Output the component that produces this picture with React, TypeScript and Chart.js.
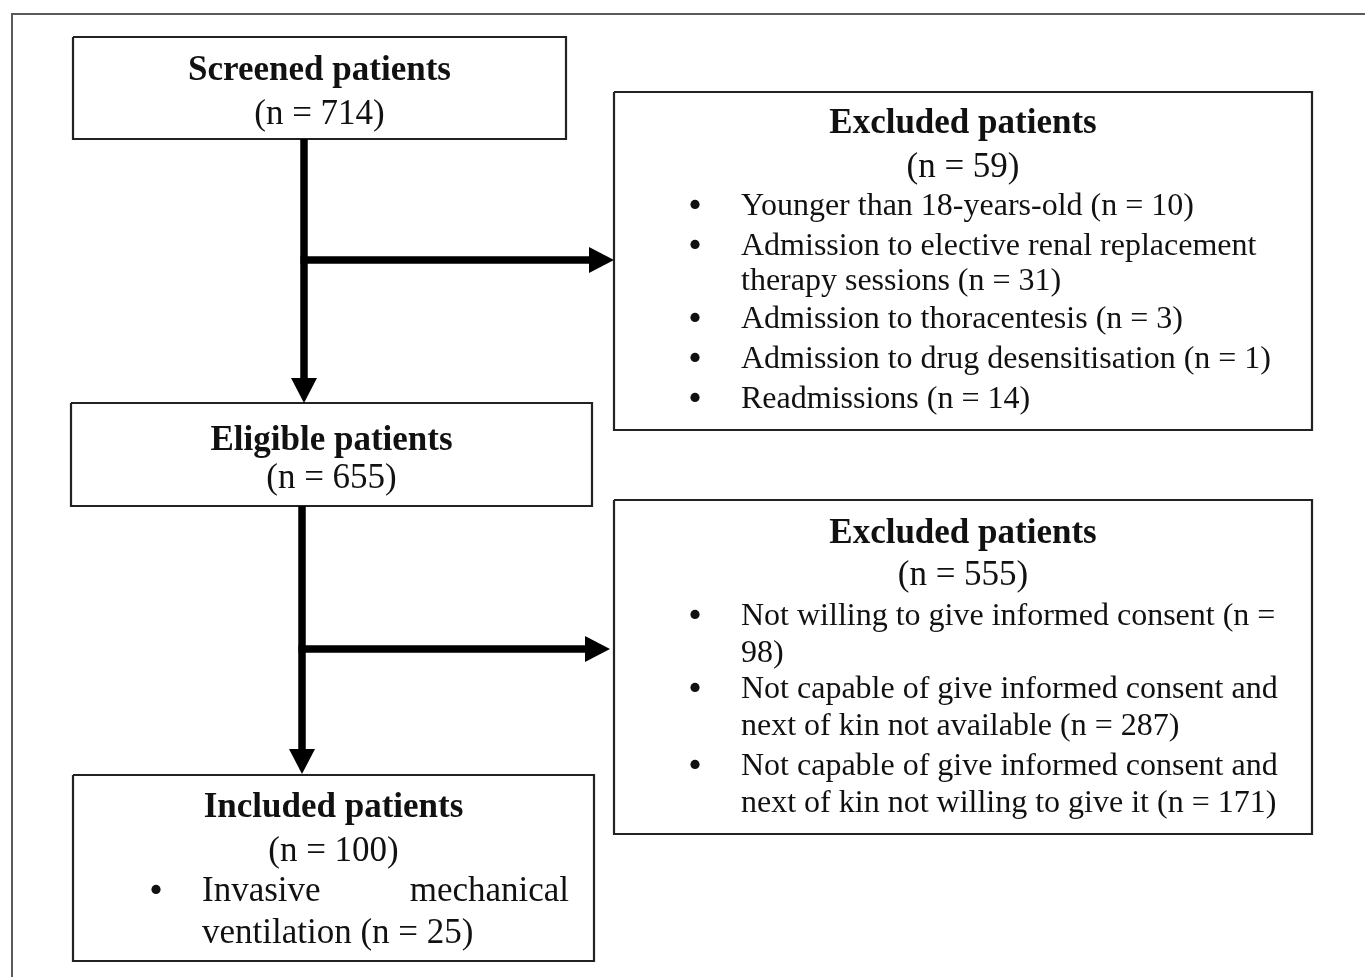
import { useEffect, useRef } from 'react';
import { Chart, registerables } from 'chart.js';

Chart.register(...registerables);

const CANVAS_W = 1365;
const CANVAS_H = 977;

// ---- Boxes (in diagram units) ----
const boxLeft = [73, 614, 71, 614, 73];
const boxRight = [566, 1312, 592, 1312, 594];
const boxTop = [37, 92, 403, 500, 775];
const boxBottom = [139, 430, 506, 834, 961];

const boxTitles = ['Screened patients', 'Excluded patients', 'Eligible patients', 'Excluded patients', 'Included patients'];
const boxCounts = [714, 59, 655, 555, 100];
const titleBaselines = [80, 133, 450, 543, 817];
const countBaselines = [124, 177, 488, 585, 861];

// ---- Bullet lists ----
const excluded1Reasons = [
  ['Younger than 18-years-old (n = 10)'],
  ['Admission to elective renal replacement', 'therapy sessions (n = 31)'],
  ['Admission to thoracentesis (n = 3)'],
  ['Admission to drug desensitisation (n = 1)'],
  ['Readmissions (n = 14)'],
];
const excluded1Baselines = [[215], [255, 290], [328], [368], [408]];

const excluded2Reasons = [
  ['Not willing to give informed consent (n =', '98)'],
  ['Not capable of give informed consent and', 'next of kin not available (n = 287)'],
  ['Not capable of give informed consent and', 'next of kin not willing to give it (n = 171)'],
];
const excluded2Baselines = [[625, 662], [698, 735], [775, 812]];

const includedReasons = [['Invasive mechanical', 'ventilation (n = 25)']];
const includedBaselines = [[901, 943]];

// ---- Arrows: start -> tip ----
const arrowStartX = [304, 304, 302, 302];
const arrowStartY = [139, 260, 506, 649];
const arrowTipX = [304, 614, 302, 610];
const arrowTipY = [403, 260, 774, 649];

// ---- Outer frame ----
const frameX = [12, 12, 1365];
const frameY = [977, 14, 14];

const SERIF = '"Liberation Serif", "Times New Roman", serif';

const flowPlugin = {
  id: 'flowText',
  afterDatasetsDraw(chart: any) {
    const { ctx } = chart;
    const xs = chart.scales.x;
    const ys = chart.scales.y;
    const px = (v: number) => xs.getPixelForValue(v);
    const py = (v: number) => ys.getPixelForValue(v);

    ctx.save();
    // arrows
    ctx.fillStyle = '#000';
    ctx.strokeStyle = '#000';
    for (let i = 0; i < arrowStartX.length; i++) {
      const sx = px(arrowStartX[i]);
      const sy = py(arrowStartY[i]);
      const tx = px(arrowTipX[i]);
      const ty = py(arrowTipY[i]);
      const dx = tx - sx;
      const dy = ty - sy;
      const len = Math.hypot(dx, dy);
      const ux = dx / len;
      const uy = dy / len;
      const headLen = 25;
      const headHalf = 13;
      const bx = tx - ux * headLen;
      const by = ty - uy * headLen;
      ctx.lineWidth = 7.5;
      ctx.lineCap = 'butt';
      ctx.beginPath();
      ctx.moveTo(sx - ux * 3.5 * (i % 2), sy - uy * 3.5 * (i % 2));
      ctx.lineTo(bx + ux * 1, by + uy * 1);
      ctx.stroke();
      ctx.beginPath();
      ctx.moveTo(tx, ty);
      ctx.lineTo(bx - uy * headHalf, by + ux * headHalf);
      ctx.lineTo(bx + uy * headHalf, by - ux * headHalf);
      ctx.closePath();
      ctx.fill();
    }

    // text
    ctx.fillStyle = '#111';
    ctx.textBaseline = 'alphabetic';
    for (let i = 0; i < boxTitles.length; i++) {
      const cx = px((boxLeft[i] + boxRight[i]) / 2);
      ctx.textAlign = 'center';
      ctx.font = `bold 35px ${SERIF}`;
      ctx.fillText(boxTitles[i], cx, py(titleBaselines[i]));
      ctx.font = `35px ${SERIF}`;
      ctx.fillText(`(n = ${boxCounts[i]})`, cx, py(countBaselines[i]));
    }

    const drawList = (
      reasons: string[][],
      baselines: number[][],
      bulletX: number,
      textX: number,
      size: number,
      justifyRight: number | null
    ) => {
      ctx.font = `${size}px ${SERIF}`;
      ctx.textAlign = 'left';
      reasons.forEach((lines, ri) => {
        const b0 = baselines[ri][0];
        ctx.beginPath();
        ctx.arc(px(bulletX), py(b0 - size * 0.33), 4.6, 0, Math.PI * 2);
        ctx.fill();
        lines.forEach((line, li) => {
          const by = py(baselines[ri][li]);
          const isLast = li === lines.length - 1;
          if (justifyRight !== null && !isLast) {
            const words = line.split(' ');
            const wordsW = words.reduce((s, w) => s + ctx.measureText(w).width, 0);
            const gap = (px(justifyRight) - px(textX) - wordsW) / Math.max(1, words.length - 1);
            let cur = px(textX);
            words.forEach((w) => {
              ctx.fillText(w, cur, by);
              cur += ctx.measureText(w).width + gap;
            });
          } else {
            ctx.fillText(line, px(textX), by);
          }
        });
      });
    };

    drawList(excluded1Reasons, excluded1Baselines, 695, 741, 32, null);
    drawList(excluded2Reasons, excluded2Baselines, 695, 741, 32, null);
    drawList(includedReasons, includedBaselines, 156, 202, 35, 569);

    ctx.restore();
  },
};

export default function App() {
  const canvasRef = useRef<HTMLCanvasElement | null>(null);

  useEffect(() => {
    const canvas = canvasRef.current;
    if (!canvas) return;

    const boxDatasets = boxLeft.map((l, i) => ({
      label: boxTitles[i],
      data: [
        { x: l, y: boxTop[i] },
        { x: boxRight[i], y: boxTop[i] },
        { x: boxRight[i], y: boxBottom[i] },
        { x: l, y: boxBottom[i] },
        { x: l, y: boxTop[i] },
      ],
      showLine: true,
      borderColor: '#222',
      borderWidth: 2.2,
      borderJoinStyle: 'miter' as const,
      pointRadius: 0,
      fill: false,
      tension: 0,
      clip: false as any,
    }));

    const frameDataset = {
      label: 'frame',
      data: frameX.map((x, i) => ({ x, y: frameY[i] })),
      showLine: true,
      borderColor: '#5a5a5a',
      borderWidth: 2,
      borderJoinStyle: 'miter' as const,
      pointRadius: 0,
      fill: false,
      tension: 0,
      clip: false as any,
    };

    const chart = new Chart(canvas, {
      type: 'scatter',
      data: { datasets: [frameDataset, ...boxDatasets] as any },
      options: {
        animation: false,
        responsive: false,
        devicePixelRatio: 1,
        layout: { padding: 0 },
        events: [],
        plugins: {
          legend: { display: false },
          tooltip: { enabled: false },
        },
        scales: {
          x: { type: 'linear', min: 0, max: CANVAS_W, display: false },
          y: { type: 'linear', min: 0, max: CANVAS_H, reverse: true, display: false },
        },
      },
      plugins: [flowPlugin],
    });

    return () => chart.destroy();
  }, []);

  return (
    <div style={{ position: 'fixed', left: 0, top: 0, width: CANVAS_W, height: CANVAS_H, background: '#fff' }}>
      <canvas ref={canvasRef} width={CANVAS_W} height={CANVAS_H} style={{ display: 'block', width: CANVAS_W, height: CANVAS_H }} />
    </div>
  );
}
